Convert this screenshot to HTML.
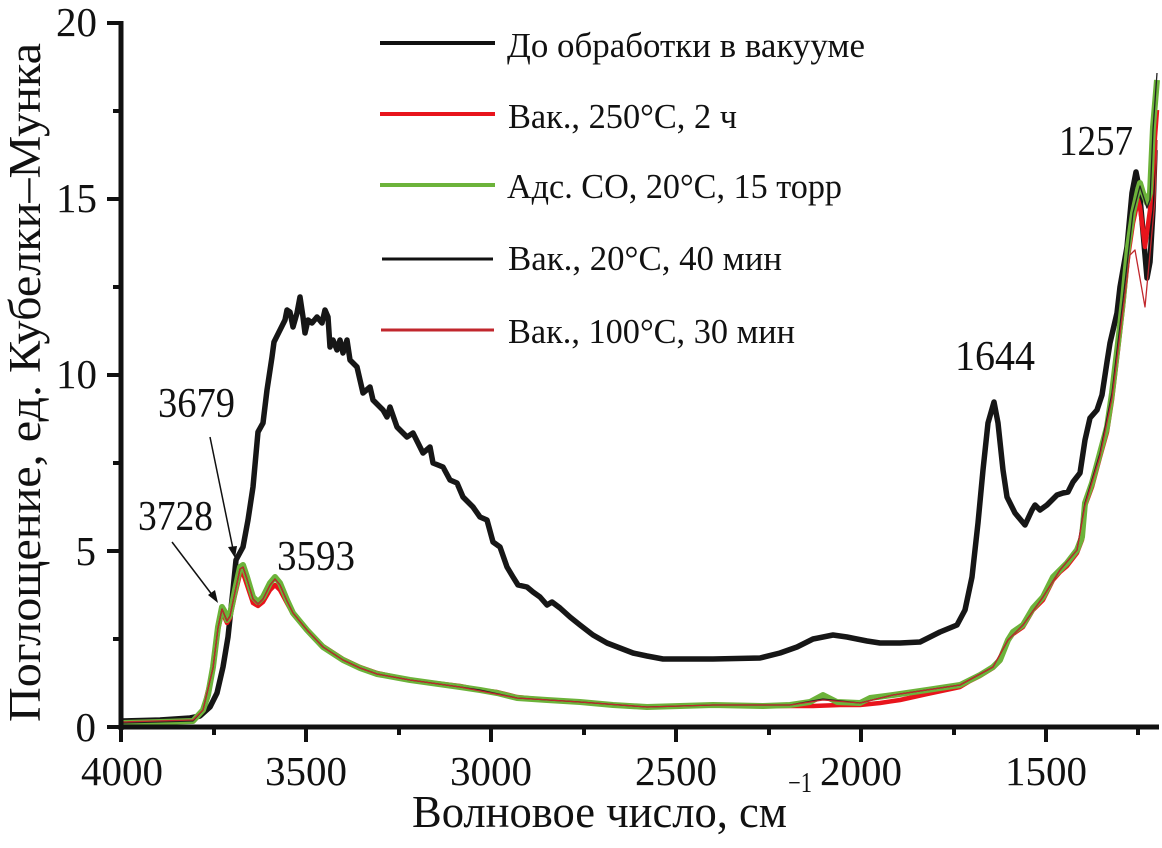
<!DOCTYPE html>
<html><head><meta charset="utf-8"><style>
html,body{margin:0;padding:0;background:#fff;}
svg{display:block;}
text{font-family:"Liberation Serif","DejaVu Serif",serif;fill:#111;}
</style></head><body>
<svg width="1162" height="848" viewBox="0 0 1162 848" xmlns="http://www.w3.org/2000/svg">
<rect width="1162" height="848" fill="#fff"/>
<!-- series -->
<polyline fill="none" stroke="#161616" stroke-width="5.5" stroke-linejoin="round" points="121,721 160,720 190,718 200,716 210,707 217,693 223,667 228,637 233,590 236,560 243,547 248,520 253,487 258,432 263,423 267,390 272,357 274,342 280,330 285,320 287,310 290,312 293,327 297,313 300,297 303,317 305,333 308,320 312,323 317,317 322,323 325,310 328,317 330,347 333,340 337,350 340,340 343,353 347,340 350,360 357,367 363,393 370,387 373,400 383,410 387,417 390,407 397,427 407,437 413,433 420,447 423,453 430,447 433,463 443,467 450,480 457,483 463,497 473,507 480,517 487,520 493,542 500,547 507,567 513,577 518,585 527,587 533,592 540,597 547,605 552,602 560,608 570,617 580,625 593,635 607,643 620,648 633,653 647,656 663,659 713,659 760,658 780,653 797,647 813,639 833,635 847,637 867,641 880,643 900,643 920,642 940,632 957,625 965,610 972,577 978,523 983,470 988,423 994,402 998,423 1003,470 1007,497 1015,513 1025,525 1032,510 1035,505 1040,510 1047,505 1057,495 1063,493 1068,492 1073,482 1080,473 1085,440 1090,418 1097,410 1102,395 1107,362 1110,343 1117,313 1120,287 1127,247 1132,193 1136,172 1139,187 1142,220 1147,278 1150,262 1153,210 1155,150"/>
<polyline fill="none" stroke="#e8141c" stroke-width="4.5" stroke-linejoin="round" points="121,723 193,721 203,711 213,670 218,630 222,612 227,623 230,618 235,595 240,574 243,573 247,585 253,603 258,606 263,602 270,590 275,585 280,590 287,603 293,614 307,630 323,646 343,659 360,667 377,673 410,680 460,686 480,690 497,692 517,697 547,700 580,702 613,705 647,707 713,705 763,706 790,706 813,706 840,705 860,705 880,703 900,700 927,694 960,687 970,681 980,676 993,668 1000,661 1008,641 1013,634 1023,627 1033,610 1043,600 1053,580 1060,572 1067,566 1077,553 1082,540 1085,506 1092,487 1100,457 1107,432 1112,400 1118,350 1123,307 1128,257 1133,223 1138,200 1140,207 1145,247 1150,210 1155,137 1157,110"/>
<polyline fill="none" stroke="#6cb33a" stroke-width="6" stroke-linejoin="round" points="121,723 160,722 193,721 203,710 208,695 213,667 218,627 222,607 225,612 227,620 230,615 235,590 240,567 243,565 247,577 253,597 258,602 263,597 270,583 275,577 280,583 287,600 293,613 307,630 323,647 343,660 360,668 377,674 410,680 460,687 480,690 497,693 517,698 547,700 580,702 613,705 647,707 713,705 763,706 790,705 810,702 823,695 837,702 860,703 870,698 893,695 927,690 960,685 970,680 980,675 993,667 1000,660 1008,640 1013,632 1023,625 1033,608 1043,597 1053,577 1060,570 1067,563 1077,550 1082,537 1085,503 1092,483 1100,453 1107,427 1112,393 1118,343 1123,300 1128,247 1133,213 1138,190 1140,183 1143,193 1147,203 1150,193 1153,127 1157,80"/>
<polyline fill="none" stroke="#222" stroke-width="1.3" stroke-linejoin="round" points="121,723 193,721 203,710 213,668 218,628 222,609 227,621 230,616 235,592 240,569 243,567 247,579 253,599 258,604 263,599 270,585 275,579 280,585 287,601 293,613 307,630 323,647 343,660 360,668 377,674 410,680 460,687 480,690 517,698 580,702 647,707 713,705 790,705 823,699 860,703 893,695 960,685 993,667 1008,640 1023,625 1043,597 1060,570 1077,550 1085,503 1100,453 1112,393 1123,300 1133,213 1140,186 1147,208 1150,200 1153,130 1157,73"/>
<polyline fill="none" stroke="#c1272d" stroke-width="1.3" stroke-linejoin="round" points="121,722 193,720 203,710 213,668 218,628 222,609 227,621 230,616 235,592 240,569 243,567 247,579 253,599 258,604 263,599 270,585 275,579 280,585 287,601 293,613 307,630 323,647 343,660 360,668 377,674 410,680 460,687 517,698 580,702 647,707 713,705 790,705 823,700 860,703 893,695 960,685 993,667 1008,640 1023,625 1043,597 1060,570 1077,550 1085,505 1100,456 1112,398 1123,310 1130,255 1135,250 1145,307 1155,200 1157,140"/>
<!-- axes -->
<line x1="121" y1="21" x2="121" y2="730" stroke="#111" stroke-width="5"/>
<line x1="119" y1="727" x2="1159" y2="727" stroke="#111" stroke-width="5"/>
<g stroke="#111" stroke-width="4">
<line x1="107" y1="23" x2="121" y2="23"/>
<line x1="107" y1="199" x2="121" y2="199"/>
<line x1="107" y1="375" x2="121" y2="375"/>
<line x1="107" y1="551" x2="121" y2="551"/>
<line x1="107" y1="727" x2="121" y2="727"/>
<line x1="113" y1="111" x2="121" y2="111"/>
<line x1="113" y1="287" x2="121" y2="287"/>
<line x1="113" y1="463" x2="121" y2="463"/>
<line x1="113" y1="639" x2="121" y2="639"/>
<line x1="121" y1="727" x2="121" y2="742"/>
<line x1="306" y1="727" x2="306" y2="742"/>
<line x1="491" y1="727" x2="491" y2="742"/>
<line x1="676" y1="727" x2="676" y2="742"/>
<line x1="861" y1="727" x2="861" y2="742"/>
<line x1="1046" y1="727" x2="1046" y2="742"/>
<line x1="214" y1="727" x2="214" y2="735"/>
<line x1="399" y1="727" x2="399" y2="735"/>
<line x1="584" y1="727" x2="584" y2="735"/>
<line x1="769" y1="727" x2="769" y2="735"/>
<line x1="954" y1="727" x2="954" y2="735"/>
<line x1="1138" y1="727" x2="1138" y2="735"/>
</g>
<!-- tick labels -->
<g font-size="41" text-anchor="end">
<text x="97" y="36">20</text>
<text x="97" y="212">15</text>
<text x="97" y="388">10</text>
<text x="96" y="565">5</text>
<text x="96" y="741">0</text>
</g>
<g font-size="41" text-anchor="middle">
<text x="122" y="785">4000</text>
<text x="306" y="785">3500</text>
<text x="491" y="785">3000</text>
<text x="676" y="785">2500</text>
<text x="861" y="785">2000</text>
<text x="1046" y="785">1500</text>
</g>
<!-- axis titles -->
<text x="412" y="827" font-size="45" textLength="375" lengthAdjust="spacingAndGlyphs">Волновое число, см</text>
<text x="788" y="792" font-size="28" textLength="24" lengthAdjust="spacingAndGlyphs">−1</text>
<text transform="translate(40,722) rotate(-90)" x="0" y="0" font-size="45" textLength="679" lengthAdjust="spacingAndGlyphs">Поглощение, ед. Кубелки–Мунка</text>
<!-- legend -->
<line x1="380" y1="43" x2="495" y2="43" stroke="#111" stroke-width="4"/>
<line x1="380" y1="114" x2="495" y2="114" stroke="#e8141c" stroke-width="4"/>
<line x1="380" y1="185" x2="495" y2="185" stroke="#6cb33a" stroke-width="4"/>
<line x1="382" y1="259" x2="493" y2="259" stroke="#111" stroke-width="3"/>
<line x1="381" y1="330" x2="494" y2="330" stroke="#c1272d" stroke-width="3"/>
<g font-size="35">
<text x="507" y="57" textLength="358" lengthAdjust="spacingAndGlyphs">До обработки в вакууме</text>
<text x="508" y="128" textLength="229" lengthAdjust="spacingAndGlyphs">Вак., 250°С, 2 ч</text>
<text x="507" y="198" textLength="335" lengthAdjust="spacingAndGlyphs">Адс. СО, 20°С, 15 торр</text>
<text x="508" y="270" textLength="274" lengthAdjust="spacingAndGlyphs">Вак., 20°С, 40 мин</text>
<text x="508" y="343" textLength="287" lengthAdjust="spacingAndGlyphs">Вак., 100°С, 30 мин</text>
</g>
<!-- peak labels -->
<g font-size="42">
<text x="955" y="370" textLength="80" lengthAdjust="spacingAndGlyphs">1644</text>
<text x="1059" y="155" textLength="74" lengthAdjust="spacingAndGlyphs">1257</text>
<text x="158" y="417" textLength="77" lengthAdjust="spacingAndGlyphs">3679</text>
<text x="138" y="530" textLength="75" lengthAdjust="spacingAndGlyphs">3728</text>
<text x="277" y="570" textLength="78" lengthAdjust="spacingAndGlyphs">3593</text>
</g>
<!-- arrows -->
<line x1="172" y1="542" x2="213" y2="596" stroke="#111" stroke-width="1.5"/>
<polygon points="218,603 208,595 215,590" fill="#111"/>
<line x1="210" y1="437" x2="233" y2="549" stroke="#111" stroke-width="1.5"/>
<polygon points="235,558 228,547 237,546" fill="#111"/>
</svg>
</body></html>
